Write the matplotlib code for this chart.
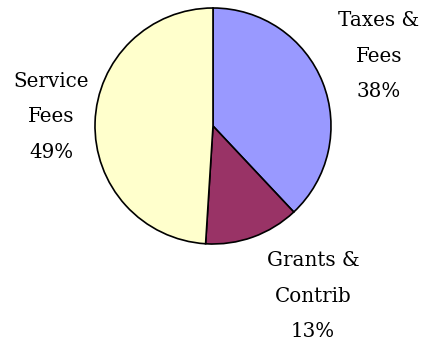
import matplotlib
matplotlib.use("Agg")
import matplotlib.pyplot as plt

labels = ["Taxes &\nFees", "Grants &\nContrib", "Service\nFees"]
shares = [38, 13, 49]
colors = ["#9999FF", "#993366", "#FFFFCC"]

W, H = 425, 341
# label anchor points (pixels from top-left of the image)
label_pos = [(379, 56), (313, 296), (51, 117)]

fig = plt.figure(figsize=(W / 100, H / 100), dpi=100)
ax = fig.add_axes([0, 0, 1, 1])

ax.pie(shares, colors=colors, startangle=90, counterclock=False,
       center=(213, H - 126), radius=118,
       wedgeprops=dict(edgecolor="black", linewidth=1.2))
ax.set_xlim(0, W)
ax.set_ylim(0, H)
ax.set_aspect("equal")
ax.axis("off")

for lab, v, (x, y) in zip(labels, shares, label_pos):
    ax.text(x, H - y, f"{lab}\n{v}%", ha="center", va="center",
            family="DejaVu Serif", fontsize=14.3, linespacing=2.1)

fig.savefig("out.png", dpi=100)
